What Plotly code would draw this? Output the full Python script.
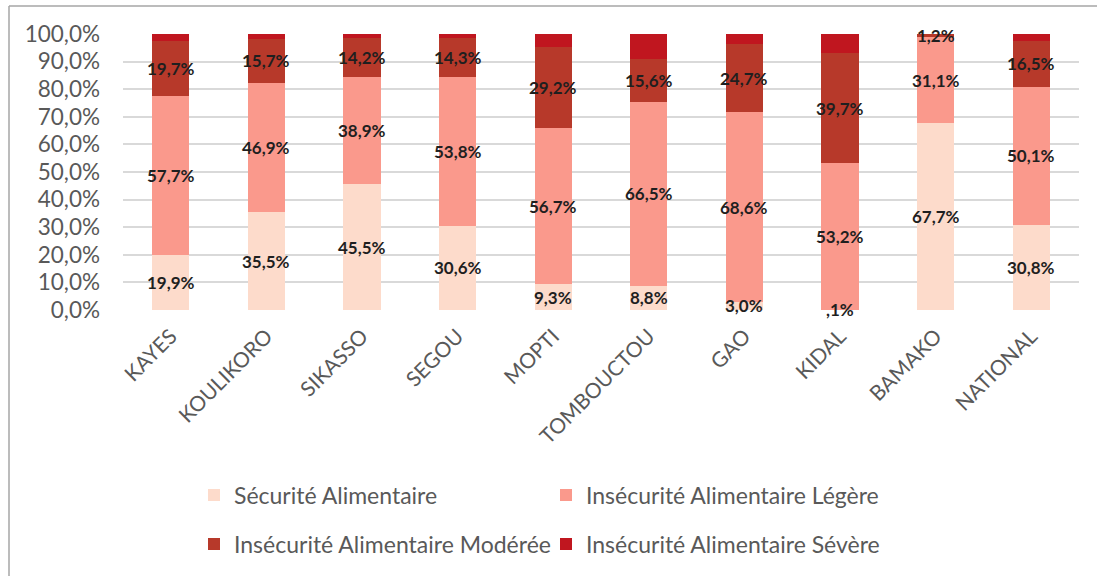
import plotly.graph_objects as go

regions = ["KAYES", "KOULIKORO", "SIKASSO", "SEGOU", "MOPTI", "TOMBOUCTOU",
           "GAO", "KIDAL", "BAMAKO", "NATIONAL"]
securite = [19.9, 35.5, 45.5, 30.6, 9.3, 8.8, 3.0, 0.1, 67.7, 30.8]
legere = [57.7, 46.9, 38.9, 53.8, 56.7, 66.5, 68.6, 53.2, 31.1, 50.1]
moderee = [19.7, 15.7, 14.2, 14.3, 29.2, 15.6, 24.7, 39.7, 1.2, 16.5]
severe = [2.7, 1.9, 1.4, 1.3, 4.8, 9.1, 3.7, 7.0, 0.0, 2.6]

series_names = ["Sécurité Alimentaire", "Insécurité Alimentaire Légère",
                "Insécurité Alimentaire Modérée", "Insécurité Alimentaire Sévère"]
series_colors = ["#FDDBCB", "#FA998C", "#B7392A", "#C0161F"]
show_labels = [True, True, True, False]

y_ticks = [0, 10, 20, 30, 40, 50, 60, 70, 80, 90, 100]
y_tick_labels = ["0,0%", "10,0%", "20,0%", "30,0%", "40,0%", "50,0%",
                 "60,0%", "70,0%", "80,0%", "90,0%", "100,0%"]


def fmt(v):
    s = f"{v:.1f}".replace(".", ",")
    if s.startswith("0,"):
        s = s[1:]
    return s + "%"


fig = go.Figure()
all_series = [securite, legere, moderee, severe]
bases = [0.0] * len(regions)
annotations = []
for i, (vals, name, col, lab) in enumerate(zip(all_series, series_names, series_colors, show_labels)):
    fig.add_trace(go.Bar(
        x=regions, y=vals, name=name,
        marker=dict(color=col, line=dict(width=0)),
        legend="legend" if i < 2 else "legend2",
    ))
    if lab:
        for j, v in enumerate(vals):
            annotations.append(dict(
                x=regions[j], y=bases[j] + v / 2, xref="x", yref="y",
                text=fmt(v), showarrow=False,
                font=dict(family="Lato", size=17, color="#1f1f1f", weight="bold"),
                xanchor="center", yanchor="middle",
            ))
    bases = [b + v for b, v in zip(bases, vals)]

L, R, T, B = 123, 18, 34, 265
W, H = 1097, 576
pw, ph = W - L - R, H - T - B

def px_x(p):
    return (p - L) / pw

def px_y(p):
    return (H - B - p) / ph

fig.update_layout(
    width=W, height=H,
    margin=dict(l=L, r=R, t=T, b=B, pad=0),
    barmode="stack",
    bargap=0.61,
    plot_bgcolor="white",
    paper_bgcolor="white",
    font=dict(family="Lato", color="#595959"),
    annotations=annotations,
    xaxis=dict(
        tickangle=-45,
        tickfont=dict(size=21, color="#595959"),
        showline=False, ticks="", showgrid=False,
        ticklabelstandoff=9,
    ),
    yaxis=dict(
        range=[0, 100],
        tickvals=y_ticks, ticktext=y_tick_labels,
        tickfont=dict(size=22.5, color="#595959"),
        showgrid=True, gridcolor="#D9D9D9", gridwidth=2,
        zeroline=False, showline=False, ticks="",
        ticklabelstandoff=22,
    ),
    legend=dict(
        orientation="h", x=px_x(194), xanchor="left", y=px_y(495), yanchor="middle",
        font=dict(size=23, color="#595959"),
        entrywidth=307, entrywidthmode="pixels",
        bgcolor="rgba(0,0,0,0)", traceorder="normal",
    ),
    legend2=dict(
        orientation="h", x=px_x(194), xanchor="left", y=px_y(544), yanchor="middle",
        font=dict(size=23, color="#595959"),
        entrywidth=307, entrywidthmode="pixels",
        bgcolor="rgba(0,0,0,0)", traceorder="normal",
    ),
    shapes=[
        dict(type="line", xref="paper", yref="paper",
             x0=px_x(9), x1=px_x(9), y0=px_y(H + 5), y1=px_y(6),
             line=dict(color="#A6A6A6", width=1.5)),
        dict(type="line", xref="paper", yref="paper",
             x0=px_x(9), x1=px_x(W + 5), y0=px_y(6), y1=px_y(6),
             line=dict(color="#A6A6A6", width=1.5)),
    ],
    showlegend=True,
)

fig.write_html("out.html")
